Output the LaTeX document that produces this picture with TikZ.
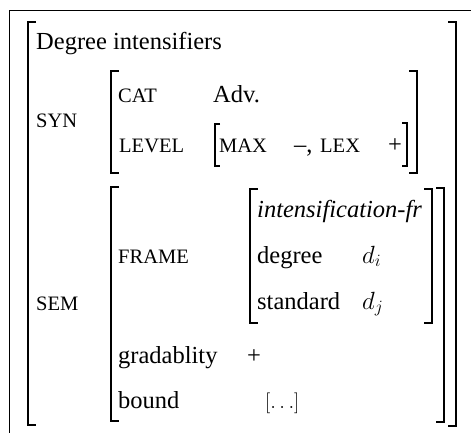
\documentclass[tikz,border=0pt]{standalone}
\usepackage{fontspec}
\setmainfont{Liberation Serif}
\newcommand{\smcap}[1]{{\fontsize{20.5}{22}\selectfont #1}}
\newcommand{\AVMl}[4]{\draw[brk] (#1+#4,#2) -- (#1,#2) -- (#1,#3) -- (#1+#4,#3);}
\newcommand{\AVMr}[4]{\draw[brk] (#1-#4,#2) -- (#1,#2) -- (#1,#3) -- (#1-#4,#3);}
\begin{document}
\begin{tikzpicture}[x=1pt,y=-1pt,
  txt/.style={anchor=base west, inner sep=0pt, font=\fontsize{24.5}{27}\selectfont},
  brk/.style={line width=1.3pt, line cap=butt, line join=miter},
  framebox/.style={line width=0.9pt}]
\useasboundingbox (0,0) rectangle (471,432);
% outer frame (only top and left visible)
\draw[framebox] (9,433) -- (9,10) -- (472,10);
% brackets: x, top, bottom, serif
\AVMl{28}{22}{425}{8}
\AVMr{456}{22}{426}{8}
\AVMl{111}{71}{173}{8}
\AVMr{417}{71}{173}{8}
\AVMl{215}{124}{166}{5}
\AVMr{407}{123}{166}{5}
\AVMl{111}{187}{421}{8}
\AVMr{444}{188}{422}{8}
\AVMl{250}{189}{323}{8}
\AVMr{432}{189}{323}{8}
% texts
\node[txt] (title) at (36,49) {Degree intensifiers};
\node[txt] (syn) at (36,127) {\smcap{SYN}};
\node[txt] (cat) at (118,102) {\smcap{CAT}};
\node[txt] (adv) at (213,102) {Adv.};
\node[txt] (level) at (119,152) {\smcap{LEVEL}};
\node[txt] (max) at (219,152) {\smcap{MAX}};
\node[txt] (minus) at (294,152) {–,};
\node[txt] (lex) at (320,152) {\smcap{LEX}};
\node[txt] (plusa) at (388,152) {+};
\node[txt] (sem) at (36,310) {\smcap{SEM}};
\node[txt] (frame) at (118,263) {\smcap{FRAME}};
\node[txt] (ifr) at (257,217) {\textit{intensification-fr}};
\node[txt] (deg) at (257,263) {degree};
\node[txt] (di) at (362,263) {$d_i$};
\node[txt] (std) at (257,309) {standard};
\node[txt] (dj) at (362,309) {$d_j$};
\node[txt] (grad) at (118,363) {gradablity};
\node[txt] (plusb) at (247,363) {+};
\node[txt] (bound) at (118,408) {bound};
\node[txt, font=\fontsize{21}{23}\selectfont] (dots) at (265,408) {$[\ldots]$};
\end{tikzpicture}
\end{document}
